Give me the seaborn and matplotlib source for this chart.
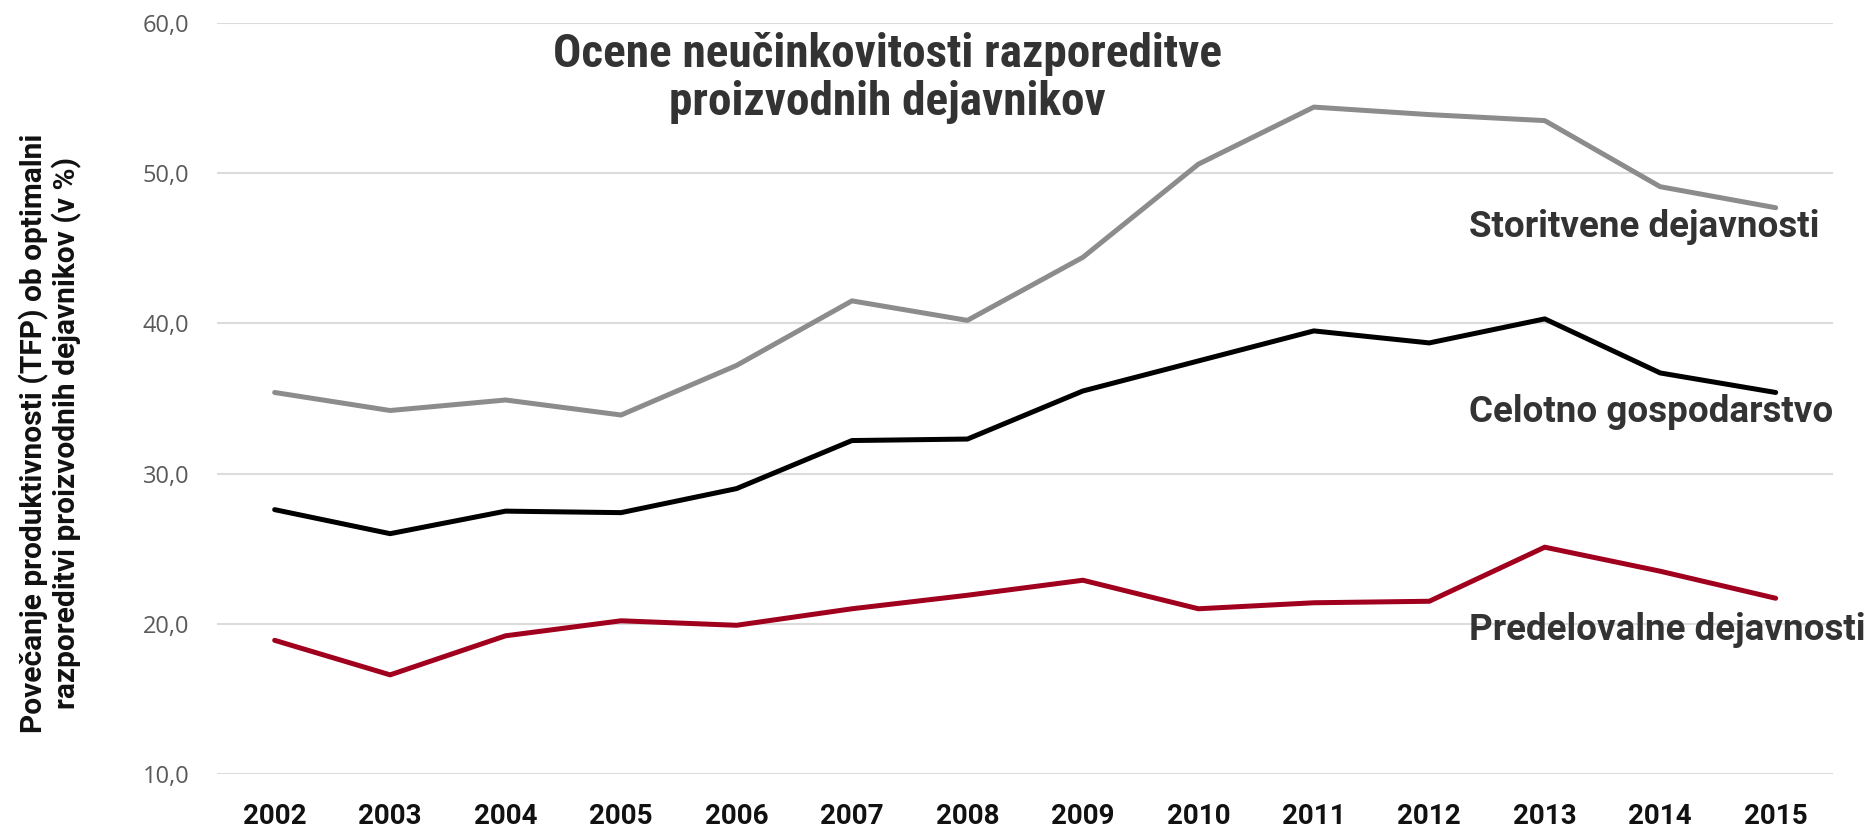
import pandas as pd
import matplotlib.pyplot as plt
import seaborn as sns

# data
years = ['2002', '2003', '2004', '2005', '2006', '2007', '2008',
         '2009', '2010', '2011', '2012', '2013', '2014', '2015']
storitvene = [35.4, 34.2, 34.9, 33.9, 37.2, 41.5, 40.2, 44.4, 50.6, 54.4, 53.9, 53.5, 49.1, 47.7]
celotno = [27.6, 26.0, 27.5, 27.4, 29.0, 32.2, 32.3, 35.5, 37.5, 39.5, 38.7, 40.3, 36.7, 35.4]
predelovalne = [18.9, 16.6, 19.2, 20.2, 19.9, 21.0, 21.9, 22.9, 21.0, 21.4, 21.5, 25.1, 23.5, 21.7]

series_names = ['Storitvene dejavnosti', 'Celotno gospodarstvo', 'Predelovalne dejavnosti']
series_colors = ['#8c8c8c', '#000000', '#a0001e']
y_ticks = [10, 20, 30, 40, 50, 60]

title = 'Ocene neučinkovitosti razporeditve\nproizvodnih dejavnikov'
y_label = 'Povečanje produktivnosti (TFP) ob optimalni\nrazporeditvi proizvodnih dejavnikov (v %)'

df = pd.DataFrame({
    'leto': years * 3,
    'vrednost': storitvene + celotno + predelovalne,
    'serija': [s for s in series_names for _ in years],
})

sns.set_style('white')
plt.rcParams['font.family'] = ['Roboto', 'DejaVu Sans']

fig = plt.figure(figsize=(18.67, 8.27), dpi=100)
ax = fig.add_axes([0.1162, 0.0641, 0.8658, 0.9081])

sns.lineplot(data=df, x='leto', y='vrednost', hue='serija', palette=series_colors,
             hue_order=series_names, linewidth=3.6, legend=False, ax=ax, clip_on=False)

ax.set_ylim(10, 60)
ax.set_xlim(-0.5, len(years) - 0.5)
ax.set_yticks(y_ticks)
ax.set_yticklabels([f'{v:.1f}'.replace('.', ',') for v in y_ticks],
                   fontsize=17, color='#5a5a5a', family=['Open Sans', 'DejaVu Sans'])
ax.set_xticks(range(len(years)))
ax.set_xticklabels(years, fontsize=20, fontweight='bold', color='#111111')
ax.tick_params(axis='y', length=0, pad=20)
ax.tick_params(axis='x', length=0, pad=21)
ax.grid(axis='y', color='#dcdcdc', linewidth=1.5)
ax.set_axisbelow(True)
sns.despine(ax=ax, left=True, bottom=True)
ax.set_xlabel('')
ax.set_ylabel('')

# line labels at the right end
label_y = [46.4, 34.1, 19.6]
for name, ly in zip(series_names, label_y):
    ax.text(10.34, ly, name, fontsize=26.5, fontweight='bold', color='#333333',
            va='center', ha='left')

fig.text(0.4755, 0.906, title, fontsize=34, fontweight='bold', color='#333333',
         ha='center', va='center', linespacing=1.12,
         family=['Roboto Condensed', 'Roboto', 'DejaVu Sans'])

fig.text(0.027, 0.476, y_label, fontsize=21.5, fontweight='bold', color='#111111',
         rotation=90, ha='center', va='center', linespacing=1.1)

fig.savefig('out.png', dpi=100)
